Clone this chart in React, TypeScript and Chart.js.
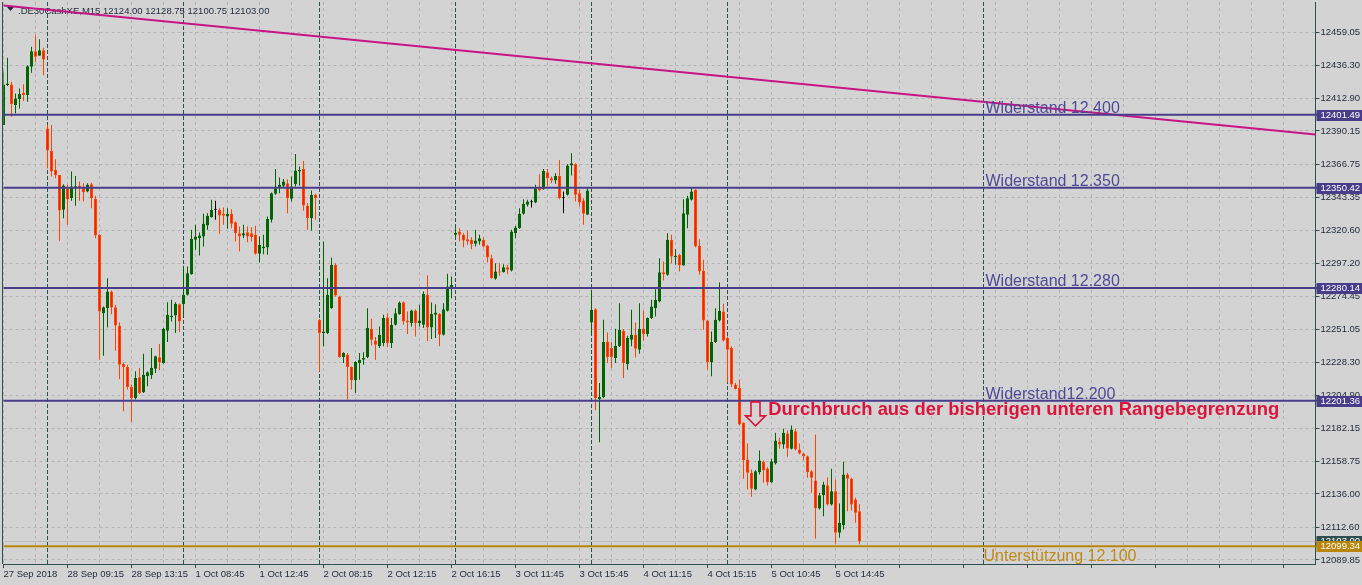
import React, { useEffect, useRef } from 'react';
import { Chart, registerables } from 'chart.js';

Chart.register(...registerables);

// ---------------- data ----------------
const SYMBOL_TEXT = '.DE30CashXE,M15';
const LAST_OHLC_TEXT = '12124.00 12128.75 12100.75 12103.00';

const DAY_LABELS = ['27 Sep', '28 Sep', '1 Oct', '2 Oct', '3 Oct', '4 Oct', '5 Oct'];
const DAY_FIRST_BAR = ['13:45', '08:00', '08:00', '08:00', '08:00', '08:00', '08:00'];
const DAY_BAR_COUNT = [11, 34, 34, 34, 34, 34, 34];
const FUTURE_SLOTS = 114;
const FIRST_TICK_LABEL = '27 Sep 2018';

const OPEN = [
  12394.3, 12422.3, 12422.7, 12408.3, 12412.5, 12416.9, 12415.3, 12435.1, 12446.0, 12442.8,
  12446.7, 12391.9, 12376.1, 12362.8, 12359.3, 12334.9, 12350.0, 12343.0, 12350.5, 12351.7,
  12350.5, 12347.7, 12352.8, 12342.6, 12317.4, 12262.6, 12266.1, 12277.8, 12266.8, 12253.8,
  12227.0, 12224.9, 12210.9, 12203.2, 12217.7, 12207.2, 12218.4, 12219.1, 12223.7, 12231.7,
  12227.7, 12250.3, 12259.8, 12261.0, 12268.9, 12268.9, 12275.5, 12289.9, 12313.9, 12315.1,
  12316.2, 12323.9, 12329.8, 12334.9, 12334.9, 12332.1, 12330.2, 12332.1, 12326.3, 12318.6,
  12316.9, 12319.3, 12318.6, 12317.4, 12304.1, 12308.1, 12308.6, 12327.9, 12346.1, 12350.5,
  12351.7, 12353.5, 12342.6, 12353.0, 12361.7, 12363.5, 12337.7, 12329.0, 12345.4, 12258.0,
  12248.7, 12248.7, 12266.1, 12296.4, 12274.3, 12231.9, 12233.5, 12224.9, 12215.6, 12227.7,
  12230.0, 12231.7, 12251.7, 12243.5, 12239.4, 12241.7, 12259.6, 12241.7, 12254.5, 12261.9,
  12270.3, 12257.5, 12255.7, 12264.5, 12255.7, 12254.5, 12275.5, 12252.6, 12261.5, 12262.2,
  12247.5, 12264.3, 12280.8, 12317.4, 12319.7, 12317.4, 12314.4, 12313.9, 12311.1, 12312.8,
  12313.9, 12309.7, 12301.1, 12286.6, 12291.8, 12291.3, 12294.8, 12292.5, 12318.6, 12322.1,
  12332.1, 12338.4, 12340.2, 12340.0, 12350.0, 12349.3, 12361.2, 12357.0, 12355.4, 12358.6,
  12343.0, 12345.4, 12365.9, 12367.0, 12346.5, 12341.4, 12331.4, 12256.1, 12265.4, 12202.5,
  12203.9, 12242.8, 12238.2, 12231.2, 12239.4, 12250.3, 12227.0, 12244.0, 12247.5, 12237.0,
  12251.7, 12248.0, 12259.2, 12266.1, 12270.8, 12291.3, 12289.4, 12313.9, 12301.8, 12303.4,
  12296.0, 12331.4, 12341.9, 12348.9, 12309.7, 12292.2, 12257.5, 12228.2, 12242.4, 12257.5,
  12263.8, 12245.2, 12238.2, 12212.6, 12210.2, 12185.8, 12160.1, 12150.8, 12139.2, 12151.3,
  12158.5, 12153.8, 12144.3, 12157.3, 12172.5, 12170.6, 12178.3, 12167.6, 12179.9, 12167.1,
  12164.3, 12162.5, 12152.0, 12145.5, 12125.9, 12135.2, 12142.2, 12128.7, 12138.0, 12108.9,
  12114.2, 12149.6, 12146.8, 12132.2, 12124.0,
];
const HIGH = [
  12432.0, 12441.4, 12424.6, 12416.4, 12419.9, 12422.9, 12436.2, 12449.0, 12457.2, 12454.4,
  12448.4, 12394.3, 12394.3, 12370.3, 12359.3, 12352.8, 12352.4, 12361.7, 12358.6, 12354.7,
  12353.5, 12353.5, 12353.8, 12344.7, 12317.9, 12267.3, 12287.1, 12278.5, 12268.5, 12256.1,
  12228.2, 12226.5, 12212.6, 12221.9, 12224.2, 12234.2, 12221.9, 12238.2, 12232.8, 12241.0,
  12252.2, 12270.3, 12272.0, 12270.3, 12269.4, 12295.7, 12295.3, 12320.9, 12324.4, 12319.0,
  12332.1, 12332.5, 12341.9, 12341.2, 12336.0, 12336.5, 12336.0, 12335.4, 12326.7, 12323.2,
  12324.4, 12323.2, 12322.8, 12323.7, 12316.2, 12317.4, 12330.2, 12347.0, 12363.5, 12357.5,
  12356.5, 12356.3, 12358.2, 12374.0, 12365.2, 12369.1, 12339.5, 12348.4, 12346.1, 12258.5,
  12312.8, 12287.1, 12301.6, 12297.6, 12274.8, 12235.2, 12234.7, 12225.4, 12228.9, 12234.7,
  12235.2, 12266.1, 12258.7, 12245.9, 12253.3, 12261.5, 12262.6, 12259.2, 12266.1, 12270.8,
  12270.8, 12263.8, 12265.0, 12265.4, 12268.5, 12277.8, 12289.0, 12270.1, 12268.9, 12262.6,
  12269.6, 12290.1, 12288.3, 12322.1, 12322.1, 12318.6, 12320.2, 12315.8, 12320.9, 12317.4,
  12315.8, 12310.4, 12303.4, 12297.6, 12297.6, 12296.9, 12296.4, 12320.9, 12323.7, 12336.0,
  12342.3, 12341.9, 12341.9, 12352.4, 12359.8, 12363.5, 12363.5, 12358.2, 12360.5, 12369.8,
  12347.7, 12367.0, 12374.5, 12367.5, 12348.9, 12343.0, 12350.7, 12279.0, 12266.1, 12213.7,
  12258.0, 12249.1, 12242.4, 12251.7, 12269.6, 12251.5, 12246.8, 12265.0, 12256.1, 12269.6,
  12264.3, 12259.6, 12272.0, 12279.4, 12301.1, 12298.8, 12318.6, 12317.4, 12307.4, 12304.1,
  12342.3, 12344.7, 12350.0, 12349.3, 12314.4, 12299.9, 12258.0, 12249.8, 12266.1, 12284.1,
  12269.2, 12246.3, 12239.4, 12213.7, 12216.1, 12186.2, 12171.3, 12153.1, 12152.7, 12166.4,
  12159.4, 12154.8, 12160.6, 12178.8, 12175.3, 12181.6, 12180.4, 12183.9, 12181.6, 12171.3,
  12164.8, 12162.9, 12152.7, 12177.6, 12136.8, 12144.5, 12147.8, 12153.6, 12146.2, 12129.4,
  12158.5, 12150.8, 12147.3, 12133.3, 12128.75,
];
const LOW = [
  12394.3, 12421.6, 12400.1, 12402.4, 12405.9, 12411.1, 12410.6, 12430.9, 12438.6, 12442.8,
  12429.2, 12364.0, 12358.2, 12357.0, 12313.2, 12329.0, 12324.4, 12341.2, 12337.7, 12341.2,
  12340.7, 12347.2, 12336.0, 12315.1, 12230.0, 12232.8, 12252.6, 12261.9, 12236.3, 12216.5,
  12193.9, 12209.1, 12186.5, 12202.1, 12206.0, 12206.7, 12211.4, 12216.5, 12220.7, 12222.6,
  12227.2, 12242.4, 12256.8, 12248.7, 12249.4, 12259.2, 12275.0, 12289.4, 12306.9, 12303.0,
  12309.3, 12320.9, 12329.5, 12327.9, 12318.1, 12324.4, 12321.6, 12322.1, 12312.8, 12305.8,
  12315.1, 12312.3, 12312.8, 12303.4, 12298.1, 12303.9, 12303.4, 12326.0, 12345.4, 12346.5,
  12350.5, 12332.5, 12340.7, 12351.2, 12351.9, 12334.2, 12320.9, 12320.4, 12327.9, 12221.9,
  12239.4, 12248.0, 12265.7, 12274.3, 12231.4, 12227.7, 12202.1, 12209.1, 12206.7, 12216.0,
  12226.5, 12231.2, 12240.0, 12230.0, 12238.2, 12239.4, 12238.7, 12238.2, 12254.0, 12261.5,
  12254.5, 12248.0, 12253.3, 12246.3, 12253.3, 12252.2, 12242.9, 12244.5, 12245.2, 12239.4,
  12247.0, 12263.8, 12273.1, 12315.8, 12312.7, 12308.8, 12310.4, 12307.4, 12309.3, 12310.4,
  12308.6, 12298.1, 12286.6, 12286.0, 12288.8, 12291.1, 12289.9, 12291.8, 12315.1, 12321.6,
  12331.4, 12337.2, 12336.5, 12339.5, 12347.7, 12348.9, 12351.2, 12353.5, 12353.1, 12342.3,
  12332.6, 12344.9, 12358.9, 12340.7, 12337.2, 12324.4, 12331.4, 12248.0, 12194.6, 12172.3,
  12203.2, 12227.7, 12224.2, 12227.7, 12238.9, 12217.2, 12223.0, 12239.4, 12231.6, 12234.2,
  12243.5, 12246.3, 12258.5, 12260.3, 12270.3, 12285.5, 12288.7, 12297.6, 12296.4, 12291.8,
  12295.7, 12322.1, 12341.4, 12308.8, 12289.4, 12251.0, 12223.0, 12218.4, 12241.7, 12256.8,
  12242.8, 12214.2, 12210.9, 12209.1, 12183.9, 12146.6, 12139.2, 12134.0, 12138.7, 12149.6,
  12143.8, 12142.0, 12143.8, 12156.6, 12167.8, 12167.6, 12162.0, 12167.1, 12166.7, 12163.6,
  12159.6, 12147.3, 12136.8, 12104.7, 12125.2, 12120.5, 12128.0, 12128.0, 12101.2, 12105.4,
  12111.2, 12124.0, 12124.5, 12115.9, 12100.75,
];
const CLOSE = [
  12422.7, 12423.4, 12409.0, 12412.9, 12416.0, 12415.3, 12435.5, 12446.0, 12442.1, 12446.7,
  12440.2, 12376.4, 12361.7, 12359.3, 12334.4, 12351.9, 12342.3, 12351.2, 12351.4, 12350.0,
  12347.2, 12352.4, 12343.0, 12316.9, 12263.8, 12266.8, 12277.8, 12266.6, 12254.0, 12226.5,
  12224.9, 12210.9, 12203.2, 12217.2, 12206.7, 12219.5, 12221.2, 12224.2, 12232.4, 12228.2,
  12251.7, 12261.5, 12260.8, 12269.2, 12256.8, 12275.5, 12290.6, 12314.6, 12316.2, 12316.9,
  12325.1, 12330.7, 12334.9, 12334.9, 12331.0, 12330.7, 12332.1, 12325.1, 12318.6, 12316.2,
  12318.6, 12316.2, 12315.8, 12304.1, 12310.4, 12309.3, 12328.6, 12346.5, 12350.0, 12352.4,
  12354.7, 12343.0, 12351.2, 12362.4, 12362.8, 12337.9, 12329.0, 12345.4, 12343.0, 12248.7,
  12249.8, 12275.5, 12296.4, 12275.0, 12231.9, 12234.7, 12224.9, 12215.6, 12228.4, 12230.0,
  12231.2, 12252.2, 12244.0, 12240.5, 12247.5, 12259.2, 12241.7, 12254.5, 12262.6, 12270.1,
  12256.8, 12256.1, 12264.5, 12255.7, 12257.5, 12276.0, 12252.6, 12262.2, 12263.1, 12247.5,
  12265.4, 12281.3, 12282.5, 12318.8, 12317.4, 12313.5, 12312.8, 12310.9, 12313.5, 12315.1,
  12309.3, 12301.6, 12287.1, 12291.8, 12291.1, 12294.8, 12292.9, 12319.7, 12322.5, 12332.1,
  12339.1, 12340.7, 12340.2, 12350.0, 12348.4, 12362.1, 12357.0, 12355.4, 12358.6, 12343.0,
  12343.0, 12365.9, 12367.5, 12345.4, 12340.2, 12332.1, 12348.4, 12265.0, 12203.2, 12203.9,
  12242.4, 12231.9, 12231.9, 12239.8, 12251.0, 12227.7, 12245.2, 12247.5, 12237.7, 12251.5,
  12248.0, 12259.2, 12267.3, 12272.0, 12291.3, 12289.9, 12313.9, 12302.3, 12302.7, 12296.0,
  12332.6, 12343.0, 12347.7, 12309.3, 12291.8, 12257.5, 12228.4, 12242.4, 12258.0, 12264.3,
  12243.5, 12237.0, 12212.6, 12209.5, 12184.6, 12159.6, 12150.8, 12139.6, 12152.0, 12159.4,
  12152.4, 12144.3, 12159.0, 12173.4, 12170.6, 12178.8, 12167.8, 12181.1, 12167.1, 12164.3,
  12162.5, 12151.3, 12147.3, 12125.9, 12135.2, 12142.7, 12128.7, 12138.0, 12108.9, 12115.9,
  12149.6, 12146.6, 12128.7, 12122.8, 12103.0,
];

const Y_TICKS = [
  12459.05, 12436.3, 12412.9, 12390.15, 12366.75, 12343.35, 12320.6, 12297.2, 12274.45,
  12251.05, 12228.3, 12204.9, 12182.15, 12158.75, 12136.0, 12112.6, 12089.85,
];
const Y_MIN = 12087.0;
const Y_MAX = 12480.4;

const RESISTANCE_LEVELS = [12401.49, 12350.42, 12280.14, 12201.36];
const RESISTANCE_TEXTS = ['Widerstand 12.400', 'Widerstand 12.350', 'Widerstand 12.280', 'Widerstand12.200'];
const SUPPORT_LEVEL = 12099.34;
const SUPPORT_TEXT = 'Unterstützung 12.100';
const BID_PRICE = 12103.0;
const TREND_START = 12478.0;
const TREND_END = 12387.6;
const SEPARATOR_BARS = [11, 45, 79, 113, 147, 181, 245];
const ANNOTATION_TEXT = 'Durchbruch aus der bisherigen unteren Rangebegrenzung';

// ---------------- styles ----------------
const BG = '#D3D3D3';
const GRID = '#B4B4B4';
const AXIS = '#2F4F4F';
const TEXT = '#1F2A3C';
const BULL = '#006400';
const BEAR_LINE = '#FF4500';
const BEAR_FILL = '#FF1E00';
const DOJI = '#000000';
const LEVEL_COLOR = '#483D8B';
const LEVEL_TEXT_COLOR = '#4F4A98';
const SUPPORT_COLOR = '#B8860B';
const SUPPORT_TEXT_COLOR = '#C08A14';
const TREND_COLOR = '#C71585';
const CRIMSON = '#DC143C';
const FONT = 'Liberation Sans';

function buildCategories(): string[] {
  const out: string[] = [];
  DAY_LABELS.forEach((d, k) => {
    let [h, m] = DAY_FIRST_BAR[k].split(':').map(Number);
    for (let j = 0; j < DAY_BAR_COUNT[k]; j++) {
      out.push(`${d} ${String(h).padStart(2, '0')}:${String(m).padStart(2, '0')}`);
      m += 15;
      if (m >= 60) { m -= 60; h += 1; }
    }
  });
  for (let j = 0; j < FUTURE_SLOTS; j++) out.push('');
  return out;
}

const CATEGORIES = buildCategories();
const N = CATEGORIES.length;

function endpoints(a: number, b: number) {
  return CATEGORIES.map((_, i) => (i === 0 ? a : i === N - 1 ? b : null));
}

export default function App() {
  const ref = useRef<HTMLCanvasElement | null>(null);

  useEffect(() => {
    const canvas = ref.current;
    if (!canvas) return;

    const dir = OPEN.map((o, i) => (CLOSE[i] > o ? 1 : CLOSE[i] < o ? -1 : 0));
    const wickColors = dir.map((d) => (d > 0 ? BULL : d < 0 ? BEAR_LINE : DOJI));
    const bodyFill = dir.map((d) => (d > 0 ? BULL : d < 0 ? BEAR_FILL : DOJI));
    const bodyBorder = dir.map((d) => (d > 0 ? BULL : d < 0 ? BEAR_LINE : DOJI));

    const decor = {
      id: 'decor',
      beforeDraw(chart: any) {
        const { ctx, width, height } = chart;
        ctx.save();
        ctx.fillStyle = BG;
        ctx.fillRect(0, 0, width, height);
        ctx.restore();
      },
      beforeDatasetsDraw(chart: any) {
        const { ctx, chartArea: ca, scales } = chart;
        const x = scales.x, y = scales.y;
        ctx.save();
        // bid line
        const by = Math.round(y.getPixelForValue(BID_PRICE)) + 0.5;
        ctx.strokeStyle = '#BDBDBD';
        ctx.lineWidth = 1;
        ctx.beginPath();
        ctx.moveTo(ca.left, by);
        ctx.lineTo(ca.right, by);
        ctx.stroke();
        // separators
        ctx.strokeStyle = AXIS;
        ctx.setLineDash([4, 2]);
        SEPARATOR_BARS.forEach((b) => {
          const px = Math.floor(x.getPixelForValue(b)) + 0.5;
          ctx.beginPath();
          ctx.moveTo(px, ca.top);
          ctx.lineTo(px, ca.bottom);
          ctx.stroke();
        });
        ctx.setLineDash([]);
        // header
        ctx.fillStyle = TEXT;
        ctx.beginPath();
        ctx.moveTo(7, 7);
        ctx.lineTo(14, 7);
        ctx.lineTo(10.5, 11);
        ctx.closePath();
        ctx.fill();
        ctx.font = `9.5px "${FONT}"`;
        ctx.textBaseline = 'middle';
        ctx.textAlign = 'left';
        ctx.fillText(SYMBOL_TEXT, 18, 11);
        ctx.fillText(LAST_OHLC_TEXT, 103, 11);
        ctx.restore();
      },
      afterDraw(chart: any) {
        const { ctx, chartArea: ca, scales, width } = chart;
        const x = scales.x, y = scales.y;
        ctx.save();
        // left border
        ctx.strokeStyle = AXIS;
        ctx.lineWidth = 1;
        ctx.beginPath();
        ctx.moveTo(2.5, ca.top);
        ctx.lineTo(2.5, ca.bottom);
        ctx.stroke();

        // level texts
        const lx = x.getPixelForValue(245.5);
        ctx.font = `16px "${FONT}"`;
        ctx.textAlign = 'left';
        ctx.textBaseline = 'alphabetic';
        ctx.fillStyle = LEVEL_TEXT_COLOR;
        RESISTANCE_LEVELS.forEach((v, i) => {
          ctx.fillText(RESISTANCE_TEXTS[i], lx, y.getPixelForValue(v) - 2);
        });
        ctx.fillStyle = SUPPORT_TEXT_COLOR;
        ctx.fillText(SUPPORT_TEXT, x.getPixelForValue(245), y.getPixelForValue(SUPPORT_LEVEL) + 14.5);

        // annotation arrow
        const ax = x.getPixelForValue(188);
        const ay = y.getPixelForValue(12200.5);
        ctx.strokeStyle = CRIMSON;
        ctx.lineWidth = 1.6;
        ctx.beginPath();
        ctx.moveTo(ax - 4.5, ay);
        ctx.lineTo(ax + 4.5, ay);
        ctx.lineTo(ax + 4.5, ay + 14);
        ctx.lineTo(ax + 10, ay + 14);
        ctx.lineTo(ax, ay + 24);
        ctx.lineTo(ax - 10, ay + 14);
        ctx.lineTo(ax - 4.5, ay + 14);
        ctx.closePath();
        ctx.stroke();
        // annotation text
        ctx.fillStyle = CRIMSON;
        ctx.font = `bold 18.4px "${FONT}"`;
        ctx.fillText(ANNOTATION_TEXT, x.getPixelForValue(191.2), y.getPixelForValue(12191.3));

        // price boxes on axis
        const box = (v: number, bg: string, line: string | null) => {
          const py = y.getPixelForValue(v);
          if (line) {
            ctx.strokeStyle = line;
            ctx.lineWidth = 2;
            ctx.beginPath();
            ctx.moveTo(ca.right, py);
            ctx.lineTo(ca.right + 3, py);
            ctx.stroke();
          }
          ctx.fillStyle = bg;
          ctx.fillRect(ca.right + 1, Math.round(py) - 5, width - ca.right - 1, 11);
          ctx.fillStyle = '#FFFFFF';
          ctx.font = `9.5px "${FONT}"`;
          ctx.textBaseline = 'middle';
          ctx.fillText(v.toFixed(2), 1320.5, Math.round(py) + 0.5);
          ctx.textBaseline = 'alphabetic';
        };
        box(BID_PRICE, AXIS, null);
        RESISTANCE_LEVELS.forEach((v) => box(v, LEVEL_COLOR, LEVEL_COLOR));
        box(SUPPORT_LEVEL, SUPPORT_COLOR, SUPPORT_COLOR);
        ctx.restore();
      },
    };

    const chart = new Chart(canvas, {
      type: 'bar',
      data: {
        labels: CATEGORIES,
        datasets: [
          ...RESISTANCE_LEVELS.map((v) => ({
            type: 'line' as const,
            label: 'level',
            data: endpoints(v, v),
            borderColor: LEVEL_COLOR,
            borderWidth: 2,
            pointRadius: 0,
            spanGaps: true,
            order: 0,
          })),
          {
            type: 'line' as const,
            label: 'support',
            data: endpoints(SUPPORT_LEVEL, SUPPORT_LEVEL),
            borderColor: SUPPORT_COLOR,
            borderWidth: 2,
            pointRadius: 0,
            spanGaps: true,
            order: 0,
          },
          {
            type: 'line' as const,
            label: 'trend',
            data: endpoints(TREND_START, TREND_END),
            borderColor: TREND_COLOR,
            borderWidth: 2,
            pointRadius: 0,
            spanGaps: true,
            order: 0,
          },
          {
            type: 'bar' as const,
            label: 'body',
            data: OPEN.map((o, i) => [o, CLOSE[i]]),
            backgroundColor: bodyFill,
            borderColor: bodyBorder,
            borderWidth: 1,
            borderSkipped: false,
            barThickness: 3,
            minBarLength: 1,
            grouped: false,
            inflateAmount: 0,
            order: 1,
          } as any,
          {
            type: 'bar' as const,
            label: 'wick',
            data: LOW.map((l, i) => [l, HIGH[i]]),
            backgroundColor: wickColors,
            borderWidth: 0,
            barThickness: 1,
            grouped: false,
            inflateAmount: 0,
            order: 2,
          } as any,
        ],
      },
      options: {
        animation: false,
        responsive: false,
        devicePixelRatio: 1,
        events: [],
        layout: { padding: { top: 2, left: 3.5, right: 0, bottom: 0 } },
        plugins: { legend: { display: false }, tooltip: { enabled: false }, title: { display: false } },
        scales: {
          x: {
            type: 'category',
            offset: false,
            grid: {
              offset: false,
              color: GRID,
              lineWidth: 1,
              drawTicks: true,
              tickLength: 4,
              tickColor: (c: any) => (c.tick && c.tick.value % 16 === 0 ? AXIS : 'rgba(0,0,0,0)'),
            },
            border: { display: true, color: AXIS, width: 1, dash: [3, 3] },
            ticks: {
              autoSkip: false,
              maxRotation: 0,
              minRotation: 0,
              align: 'start',
              padding: 1,
              color: TEXT,
              font: { family: FONT, size: 9.5 },
              callback(this: any, v: any) {
                const i = Number(v);
                if (i % 16 !== 0) return '';
                if (i === 0) return FIRST_TICK_LABEL;
                return CATEGORIES[i] || '';
              },
            },
            afterBuildTicks(scale: any) {
              scale.ticks = scale.ticks.filter((t: any) => t.value % 8 === 0);
            },
            afterFit(scale: any) {
              scale.height = 21;
              scale.paddingLeft = 0;
              scale.paddingRight = 0;
            },
          },
          y: {
            type: 'linear',
            position: 'right',
            min: Y_MIN,
            max: Y_MAX,
            grid: { color: GRID, lineWidth: 1, drawTicks: true, tickLength: 4, tickColor: AXIS },
            border: { display: true, color: AXIS, width: 1, dash: [3, 3] },
            ticks: {
              autoSkip: false,
              padding: 1,
              color: TEXT,
              font: { family: FONT, size: 9.5 },
              callback: (v: any) => Number(v).toFixed(2),
            },
            afterBuildTicks(scale: any) {
              scale.ticks = Y_TICKS.map((v) => ({ value: v }));
            },
            afterFit(scale: any) {
              scale.width = 46.5;
              scale.paddingTop = 0;
              scale.paddingBottom = 0;
            },
          },
        },
      } as any,
      plugins: [decor],
    });

    return () => chart.destroy();
  }, []);

  return (
    <div style={{ position: 'fixed', left: 0, top: 0, width: 1362, height: 585, background: BG }}>
      <canvas ref={ref} width={1362} height={585} style={{ display: 'block', width: 1362, height: 585 }} />
    </div>
  );
}
